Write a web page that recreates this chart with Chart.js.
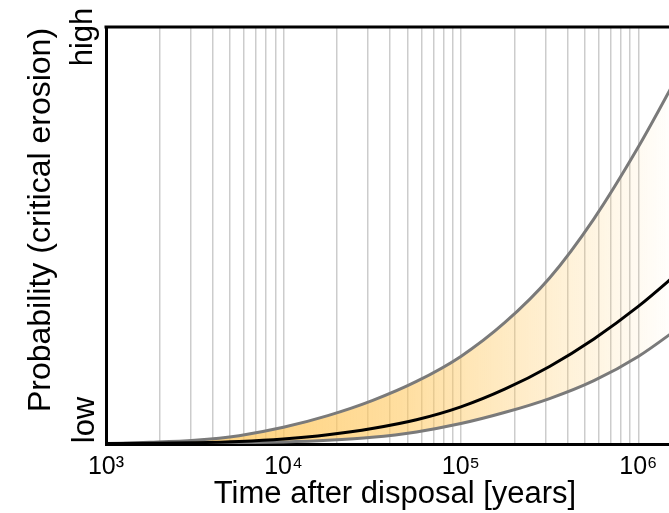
<!DOCTYPE html>
<html>
<head>
<meta charset="utf-8">
<script src="https://cdn.jsdelivr.net/npm/chart.js@4/dist/chart.umd.min.js"></script>
<style>
  html, body { margin: 0; padding: 0; background: #fff; overflow: hidden; }
  #wrap { width: 669px; height: 513px; }
</style>
</head>
<body>
<div id="wrap"><canvas id="chart" width="669" height="513"></canvas></div>
<script>
// years after disposal (quarter decades) and probability band (0 = low, 1 = high)
const years      = [1000, 1778, 3162, 5623, 10000, 17783, 31623, 56234, 100000, 177828, 316228, 562341, 1000000, 1778279];
const upperBound = [0.001, 0.004, 0.009, 0.020, 0.040, 0.068, 0.104, 0.150, 0.210, 0.292, 0.398, 0.540, 0.712, 0.905];
const median     = [0.001, 0.0015, 0.003, 0.006, 0.012, 0.022, 0.037, 0.058, 0.089, 0.132, 0.186, 0.252, 0.330, 0.420];
const lowerBound = [0.000, 0.0005, 0.0015, 0.003, 0.005, 0.009, 0.016, 0.029, 0.049, 0.076, 0.109, 0.152, 0.210, 0.285];

// grid: every mantissa of every decade, labels only on the powers of ten
const decades    = [3, 4, 5, 6];
const mantissas  = [1, 2, 3, 4, 5, 6, 7, 8, 9];
const tickLabels = ['10³', '10⁴', '10⁵', '10⁶'];

const xMin = 1e3;
const xMax = 1.49e6;

const gridValues = [];
decades.forEach(d => mantissas.forEach(m => {
  const v = m * Math.pow(10, d);
  if (v <= xMax) gridValues.push(v);
}));

const toPoints = arr => arr.map((y, i) => ({ x: years[i], y: y }));

function bandFill(ctx) {
  const area = ctx.chart.chartArea;
  if (!area) return 'rgba(255,200,95,0.5)';
  const g = ctx.chart.ctx.createLinearGradient(area.left, 0, area.right, 0);
  g.addColorStop(0, 'rgba(255,200,95,0.85)');
  g.addColorStop(0.35, 'rgba(255,200,95,0.72)');
  g.addColorStop(0.52, 'rgba(255,200,95,0.6)');
  g.addColorStop(0.79, 'rgba(255,200,95,0.28)');
  g.addColorStop(1, 'rgba(255,200,95,0.02)');
  return g;
}

// axis texts and the top frame line
const axisText = {
  id: 'axisText',
  afterDraw(chart) {
    const { ctx, chartArea } = chart;
    ctx.save();
    ctx.strokeStyle = '#000';
    ctx.lineWidth = 3;
    ctx.beginPath();
    ctx.moveTo(chartArea.left - 1.5, chartArea.top);
    ctx.lineTo(chartArea.right, chartArea.top);
    ctx.stroke();

    ctx.fillStyle = '#000';
    ctx.font = '31px "Liberation Sans", Arial, sans-serif';
    ctx.textBaseline = 'alphabetic';
    ctx.textAlign = 'center';
    ctx.fillText('Time after disposal [years]', 395, 503);

    const rot = (txt, x, y) => {
      ctx.save();
      ctx.translate(x, y);
      ctx.rotate(-Math.PI / 2);
      ctx.fillText(txt, 0, 0);
      ctx.restore();
    };
    ctx.font = '32px "Liberation Sans", Arial, sans-serif';
    rot('Probability (critical erosion)', 50, 220);
    ctx.font = '31px "Liberation Sans", Arial, sans-serif';
    rot('high', 92, 37);
    rot('low', 94, 420);
    ctx.restore();
  }
};

new Chart(document.getElementById('chart'), {
  type: 'line',
  data: {
    datasets: [
      {
        label: 'upper',
        data: toPoints(upperBound),
        borderColor: '#7a7a7a',
        borderWidth: 3,
        backgroundColor: bandFill,
        fill: 2,
        order: 1
      },
      {
        label: 'median',
        data: toPoints(median),
        borderColor: '#000',
        borderWidth: 3,
        fill: false,
        order: 0
      },
      {
        label: 'lower',
        data: toPoints(lowerBound),
        borderColor: '#7a7a7a',
        borderWidth: 3,
        fill: false,
        order: 2
      }
    ]
  },
  options: {
    responsive: false,
    animation: false,
    devicePixelRatio: 1,
    layout: { padding: { top: 27, right: 0, left: 0, bottom: 0 } },
    elements: {
      point: { radius: 0 },
      line: { cubicInterpolationMode: 'monotone' }
    },
    plugins: {
      legend: { display: false },
      tooltip: { enabled: false },
      filler: { drawTime: 'beforeDatasetsDraw' }
    },
    scales: {
      x: {
        type: 'logarithmic',
        min: xMin,
        max: xMax,
        afterBuildTicks: s => { s.ticks = gridValues.map(v => ({ value: v })); },
        afterFit: s => { s.height = 69; },
        grid: { color: 'rgba(0,0,0,0.2)', lineWidth: 1.5, drawTicks: false },
        border: { display: true, color: '#000', width: 3 },
        ticks: {
          autoSkip: false,
          maxRotation: 0,
          padding: 8,
          color: '#000',
          font: { family: '"Liberation Sans", Arial, sans-serif', size: 25 },
          callback: v => {
            const e = Math.round(Math.log10(v));
            const i = decades.indexOf(e);
            return (Math.abs(v - Math.pow(10, e)) < 1e-6 && i >= 0) ? tickLabels[i] : '';
          }
        }
      },
      y: {
        type: 'linear',
        min: 0,
        max: 1,
        afterFit: s => { s.width = 106; },
        grid: { display: false },
        border: { display: true, color: '#000', width: 3 },
        ticks: { display: false }
      }
    }
  },
  plugins: [axisText]
});
</script>
</body>
</html>
